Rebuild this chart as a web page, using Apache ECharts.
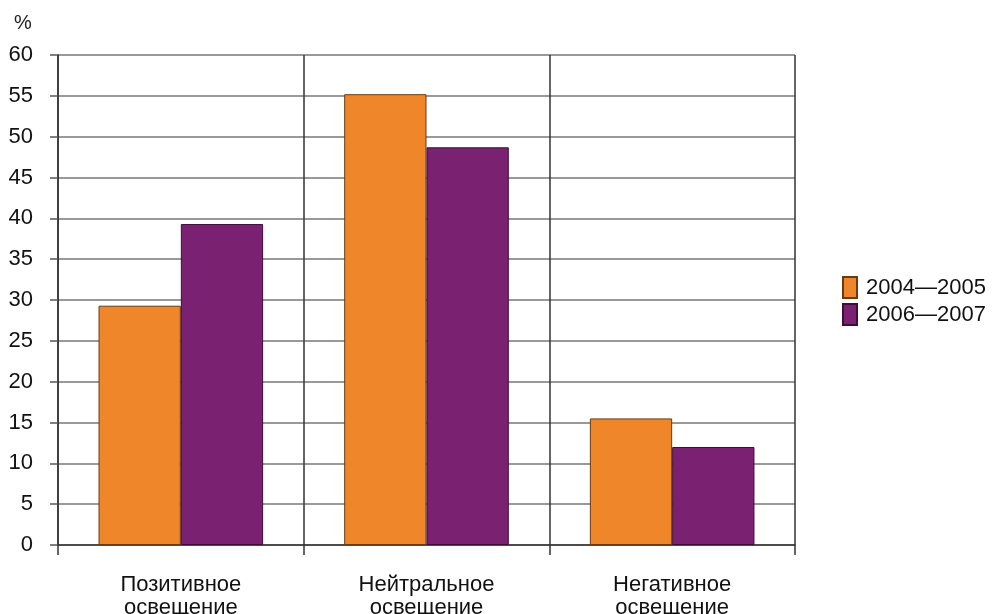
<!DOCTYPE html>
<html>
<head>
<meta charset="utf-8">
<script src="https://cdn.jsdelivr.net/npm/echarts@6/dist/echarts.min.js"></script>
<style>
  html, body { margin: 0; padding: 0; background: #fff; }
  #chart { width: 992px; height: 614px; }
</style>
</head>
<body>
<div id="chart"></div>
<script>
// Categories of media coverage and share (%) per period
const categories = ['Позитивное\nосвещение', 'Нейтральное\nосвещение', 'Негативное\nосвещение'];
const seriesNames = ['2004—2005', '2006—2007'];
const values2004_2005 = [29.3, 55.2, 15.5];
const values2006_2007 = [39.3, 48.7, 12.0];
const yTicks = { min: 0, max: 60, interval: 5 };

const FONT = '"Liberation Sans", Arial, sans-serif';
const chart = echarts.init(document.getElementById('chart'));

chart.setOption({
  animation: false,
  backgroundColor: '#fff',
  textStyle: { fontFamily: FONT },
  grid: { left: 58, right: 197, top: 55, bottom: 69, containLabel: false, outerBoundsMode: 'none' },
  legend: {
    orient: 'vertical',
    left: 842,
    top: 276,
    padding: 0,
    itemWidth: 14,
    itemHeight: 21,
    itemGap: 4,
    icon: 'rect',
    formatter: '{t|{name}}',
    textStyle: {
      fontSize: 22, lineHeight: 21, color: '#111', fontFamily: FONT,
      rich: { t: { fontSize: 22, lineHeight: 21, color: '#111', fontFamily: FONT, padding: [0, 0, 0, 4] } }
    },
    data: seriesNames
  },
  graphic: [{
    type: 'text',
    left: 14,
    top: 13,
    style: { text: '%', fontSize: 20, fill: '#222', fontFamily: FONT }
  }],
  xAxis: {
    type: 'category',
    data: categories,
    boundaryGap: true,
    axisLine: { show: true, lineStyle: { color: '#333', width: 1.5 } },
    axisTick: { show: true, length: 10, alignWithLabel: false, lineStyle: { color: '#333', width: 1.5 } },
    splitLine: { show: true, lineStyle: { color: '#333', width: 1.5 } },
    axisLabel: { fontSize: 22, color: '#111', lineHeight: 23, margin: 28, fontFamily: FONT }
  },
  yAxis: {
    type: 'value',
    min: yTicks.min,
    max: yTicks.max,
    interval: yTicks.interval,
    axisLine: { show: true, lineStyle: { color: '#333', width: 1.5 } },
    axisTick: { show: true, length: 8, lineStyle: { color: '#555', width: 1.5 } },
    splitLine: { show: true, lineStyle: { color: '#777', width: 1.5 } },
    axisLabel: { fontSize: 22, color: '#111', margin: 25, fontFamily: FONT }
  },
  series: [
    {
      name: seriesNames[0],
      type: 'bar',
      data: values2004_2005,
      barGap: '0%',
      barCategoryGap: '33%',
      itemStyle: { color: '#F0862A', borderColor: '#6a3a10', borderWidth: 1 }
    },
    {
      name: seriesNames[1],
      type: 'bar',
      data: values2006_2007,
      barGap: '0%',
      barCategoryGap: '33%',
      itemStyle: { color: '#7A2271', borderColor: '#3d0f38', borderWidth: 1 }
    }
  ]
});
</script>
</body>
</html>
